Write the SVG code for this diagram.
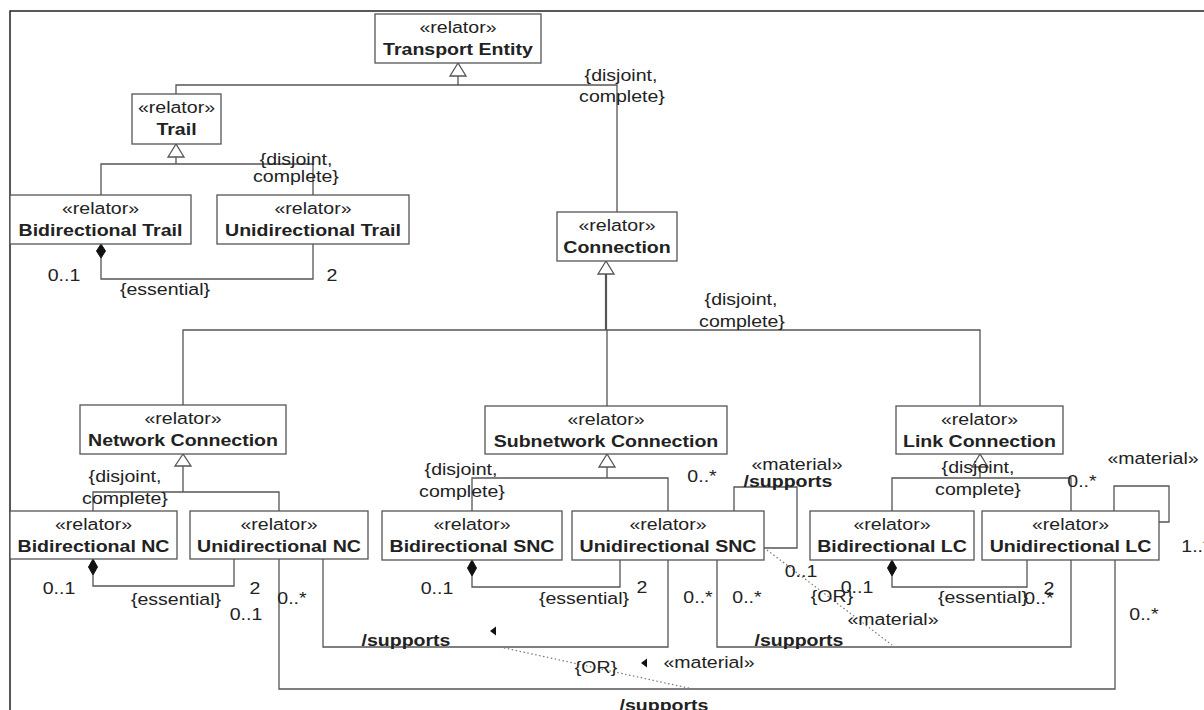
<svg xmlns="http://www.w3.org/2000/svg" width="1204" height="710" viewBox="0 0 1204 710">
  <style>
    text { font-family: "Liberation Sans", Arial, sans-serif; font-size: 17px; fill: #222; text-anchor: middle;
           transform-box: fill-box; transform-origin: center; transform: scaleX(1.15); }
    .nm { font-weight: bold; }
    .box { fill: #fff; stroke: #555; stroke-width: 1.3; }
    .ln { fill: none; stroke: #555; stroke-width: 1.3; }
    .dot { fill: none; stroke: #777; stroke-width: 1.2; stroke-dasharray: 1.5 2.5; }
    .gen { fill: #fff; stroke: #555; stroke-width: 1.3; }
    .dia { fill: #111; stroke: #111; stroke-width: 1; }
    .rd { fill: #111; }
    .frame { fill: none; stroke: #222; stroke-width: 1.5; }
  </style>

  <!-- diagram frame -->
  <path class="frame" d="M10 710 V11 H1204"/>

  <!-- connectors: generalizations, compositions, associations -->
  <g id="connectors">
    <!-- Transport Entity generalization set -->
    <path class="ln" d="M458 76 V85 M176 94 V85 H617 V221"/>
    <polygon class="gen" points="458,63 450,76 466,76"/>
    <!-- Trail generalization set -->
    <path class="ln" d="M176 157 V164 M101 195 V164 H313 V195"/>
    <polygon class="gen" points="176,144 168,157 184,157"/>
    <!-- Trail composition -->
    <path class="ln" d="M101 258 V279 H313 V244"/>
    <polygon class="dia" points="101,244 105.5,251 101,258 96.5,251"/>

    <!-- Connection generalization set -->
    <path class="ln" d="M606 274 V330" style="stroke-width:2.2"/>
    <path class="ln" d="M183 405 V330 H980 V406 M607 330 V406"/>
    <polygon class="gen" points="606,261 598,274 614,274"/>

    <!-- Network Connection generalization set -->
    <path class="ln" d="M183 466 V492 M93 511 V492 H279 V511"/>
    <polygon class="gen" points="183,454 175,466 191,466"/>
    <!-- NC composition -->
    <path class="ln" d="M93 575 V586 H234 V559"/>
    <polygon class="dia" points="93,559 97.5,567 93,575 88.5,567"/>

    <!-- Subnetwork Connection generalization set -->
    <path class="ln" d="M607 467 V478 M472 511 V478 H668 V511"/>
    <polygon class="gen" points="607,454 599,467 615,467"/>
    <!-- SNC composition -->
    <path class="ln" d="M472 576 V587 H620 V560"/>
    <polygon class="dia" points="472,560 476.5,568 472,576 467.5,568"/>

    <!-- Link Connection generalization set -->
    <path class="ln" d="M980 467 V478 M892 511 V478 H1071 V511"/>
    <polygon class="gen" points="980,454 972,467 988,467"/>
    <!-- LC composition -->
    <path class="ln" d="M892 576 V587 H1027 V560"/>
    <polygon class="dia" points="892,560 896.5,568 892,576 887.5,568"/>

    <!-- /supports associations -->
    <path class="ln" d="M323 559 V647 H668 V560"/>
    <path class="ln" d="M279 559 V689 H1115 V560"/>
    <path class="ln" d="M717 560 V647 H1071 V560"/>
    <!-- self associations -->
    <path class="ln" d="M734 511 V487 H797 V548 H764"/>
    <path class="ln" d="M1114 511 V486 H1169 V522 H1159"/>

    <!-- {OR} constraints -->
    <path class="dot" d="M500 647 L693 689"/>
    <path class="dot" d="M767 550 L892 645"/>

    <!-- reading direction arrows -->
    <polygon class="rd" points="490,631 496,626.5 496,635.5"/>
    <polygon class="rd" points="641,663 647,658.5 647,667.5"/>
  </g>

  <!-- classes -->
  <g id="transport-entity">
    <rect class="box" x="375" y="14" width="166" height="49"/>
    <text x="458" y="33">«relator»</text>
    <text class="nm" x="458" y="55">Transport Entity</text>
  </g>
  <g id="trail">
    <rect class="box" x="132" y="94" width="89" height="50"/>
    <text x="176.5" y="113">«relator»</text>
    <text class="nm" x="176.5" y="135">Trail</text>
  </g>
  <g id="bidirectional-trail">
    <rect class="box" x="10" y="195" width="181" height="49"/>
    <text x="100.5" y="214">«relator»</text>
    <text class="nm" x="100.5" y="236">Bidirectional Trail</text>
  </g>
  <g id="unidirectional-trail">
    <rect class="box" x="217" y="195" width="192" height="49"/>
    <text x="313" y="214">«relator»</text>
    <text class="nm" x="313" y="236">Unidirectional Trail</text>
  </g>
  <g id="connection">
    <rect class="box" x="557" y="212" width="120" height="49"/>
    <text x="617" y="231">«relator»</text>
    <text class="nm" x="617" y="253">Connection</text>
  </g>
  <g id="network-connection">
    <rect class="box" x="80" y="405" width="206" height="49"/>
    <text x="183" y="424">«relator»</text>
    <text class="nm" x="183" y="446">Network Connection</text>
  </g>
  <g id="subnetwork-connection">
    <rect class="box" x="485" y="406" width="242" height="48"/>
    <text x="606" y="425">«relator»</text>
    <text class="nm" x="606" y="447">Subnetwork Connection</text>
  </g>
  <g id="link-connection">
    <rect class="box" x="896" y="406" width="167" height="48"/>
    <text x="979.5" y="425">«relator»</text>
    <text class="nm" x="979.5" y="447">Link Connection</text>
  </g>
  <g id="bidirectional-nc">
    <rect class="box" x="10" y="511" width="167" height="48"/>
    <text x="93.5" y="530">«relator»</text>
    <text class="nm" x="93.5" y="552">Bidirectional NC</text>
  </g>
  <g id="unidirectional-nc">
    <rect class="box" x="190" y="511" width="178" height="48"/>
    <text x="279" y="530">«relator»</text>
    <text class="nm" x="279" y="552">Unidirectional NC</text>
  </g>
  <g id="bidirectional-snc">
    <rect class="box" x="382" y="511" width="180" height="49"/>
    <text x="472" y="530">«relator»</text>
    <text class="nm" x="472" y="552">Bidirectional SNC</text>
  </g>
  <g id="unidirectional-snc">
    <rect class="box" x="572" y="511" width="192" height="49"/>
    <text x="668" y="530">«relator»</text>
    <text class="nm" x="668" y="552">Unidirectional SNC</text>
  </g>
  <g id="bidirectional-lc">
    <rect class="box" x="810" y="511" width="164" height="49"/>
    <text x="892" y="530">«relator»</text>
    <text class="nm" x="892" y="552">Bidirectional LC</text>
  </g>
  <g id="unidirectional-lc">
    <rect class="box" x="982" y="511" width="177" height="49"/>
    <text x="1070.5" y="530">«relator»</text>
    <text class="nm" x="1070.5" y="552">Unidirectional LC</text>
  </g>

  <!-- constraint and multiplicity labels -->
  <g id="labels">
    <text x="621" y="81">{disjoint,</text>
    <text x="622" y="102">complete}</text>

    <text x="296" y="165">{disjoint,</text>
    <text x="296" y="182">complete}</text>
    <text x="64" y="281">0..1</text>
    <text x="332" y="281">2</text>
    <text x="165" y="295">{essential}</text>

    <text x="741" y="305">{disjoint,</text>
    <text x="742" y="327">complete}</text>

    <text x="125" y="482">{disjoint,</text>
    <text x="125" y="504">complete}</text>
    <text x="59" y="594">0..1</text>
    <text x="176" y="605">{essential}</text>
    <text x="255" y="594">2</text>
    <text x="246" y="620">0..1</text>
    <text x="292" y="604">0..*</text>

    <text x="461" y="475">{disjoint,</text>
    <text x="462" y="497">complete}</text>
    <text x="702" y="482">0..*</text>
    <text x="437" y="594">0..1</text>
    <text x="584" y="604">{essential}</text>
    <text x="642" y="593">2</text>
    <text x="698" y="603">0..*</text>
    <text x="747" y="603">0..*</text>

    <text class="nm" x="406" y="646">/supports</text>
    <text x="596" y="673">{OR}</text>
    <text x="709" y="668">«material»</text>
    <text class="nm" x="664" y="711">/supports</text>

    <text x="797" y="470">«material»</text>
    <text class="nm" x="788" y="487">/supports</text>
    <text x="801" y="577">0..1</text>
    <text x="857" y="593">0..1</text>
    <text x="832" y="602">{OR}</text>
    <text x="893" y="625">«material»</text>
    <text class="nm" x="799" y="646">/supports</text>

    <text x="978" y="473">{disjoint,</text>
    <text x="978" y="495">complete}</text>
    <text x="1082" y="487">0..*</text>
    <text x="1153" y="464">«material»</text>
    <text x="1196" y="552">1..*</text>
    <text x="1144" y="620">0..*</text>
    <text x="983" y="603">{essential}</text>
    <text x="1049" y="594">2</text>
    <text x="1039" y="604">0..*</text>
  </g>
</svg>
